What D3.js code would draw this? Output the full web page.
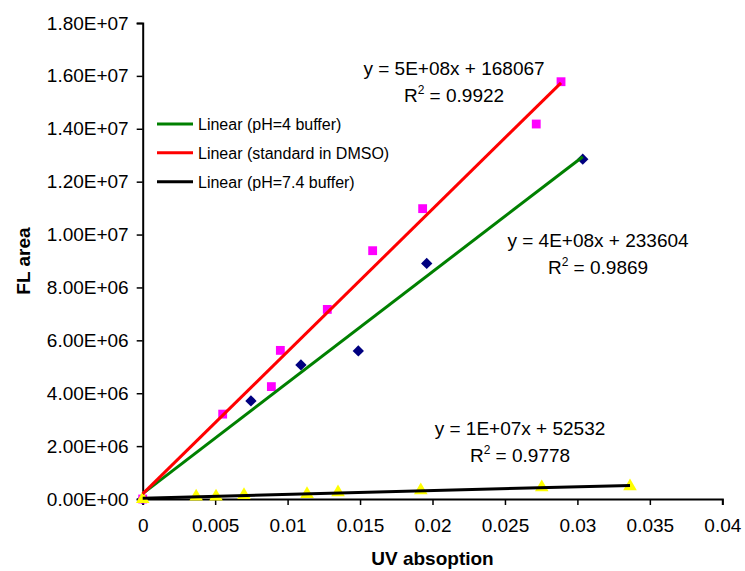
<!DOCTYPE html>
<html>
<head>
<meta charset="utf-8">
<script src="https://cdn.jsdelivr.net/npm/d3@7"></script>
<style>
  html, body { margin: 0; padding: 0; background: #fff; }
  svg { display: block; font-family: "Liberation Sans", Arial, sans-serif; }
</style>
</head>
<body>
<svg id="chart" width="745" height="571"></svg>
<script>
// ---- data ----
const seriesNames = ["pH=4 buffer", "standard in DMSO", "pH=7.4 buffer"];

const ph4X = [0, 0.00747, 0.01092, 0.01488, 0.0196, 0.03037];
const ph4Y = [0, 3.71e6, 5.07e6, 5.60e6, 8.91e6, 1.285e7];

const dmsoX = [0, 0.00552, 0.00888, 0.0095, 0.01274, 0.01587, 0.01932, 0.02716, 0.02887];
const dmsoY = [0, 3.21e6, 4.25e6, 5.62e6, 7.17e6, 9.39e6, 1.098e7, 1.418e7, 1.578e7];

const ph74X = [0, 0.00369, 0.00506, 0.00699, 0.01134, 0.01348, 0.01919, 0.02754, 0.03363];
const ph74Y = [0, 0.09e6, 0.09e6, 0.15e6, 0.19e6, 0.25e6, 0.33e6, 0.44e6, 0.48e6];

const equations = ["y = 4E+08x + 233604", "y = 5E+08x + 168067", "y = 1E+07x + 52532"];
const r2Values = ["0.9869", "0.9922", "0.9778"];

const xTicks = [0, 0.005, 0.01, 0.015, 0.02, 0.025, 0.03, 0.035, 0.04];
const xTickLabels = ["0", "0.005", "0.01", "0.015", "0.02", "0.025", "0.03", "0.035", "0.04"];
const yTicks = [0, 2e6, 4e6, 6e6, 8e6, 1e7, 1.2e7, 1.4e7, 1.6e7, 1.8e7];
const yTickLabels = ["0.00E+00", "2.00E+06", "4.00E+06", "6.00E+06", "8.00E+06",
                     "1.00E+07", "1.20E+07", "1.40E+07", "1.60E+07", "1.80E+07"];

// ---- layout ----
const svg = d3.select("#chart");
const plot = { left: 142.7, right: 722.3, top: 23, bottom: 499 };
const x = d3.scaleLinear().domain([0, 0.04]).range([plot.left, plot.right]);
const y = d3.scaleLinear().domain([0, 1.8e7]).range([plot.bottom, plot.top]);

const series = [
  { name: seriesNames[0], xs: ph4X, ys: ph4Y, marker: "diamond", fill: "#000080", line: "#008000",
    eq: equations[0], r2: r2Values[0], labelX: 598, labelY: 247 },
  { name: seriesNames[1], xs: dmsoX, ys: dmsoY, marker: "square", fill: "#FF00FF", line: "#FF0000",
    eq: equations[1], r2: r2Values[1], labelX: 454, labelY: 75 },
  { name: seriesNames[2], xs: ph74X, ys: ph74Y, marker: "triangle", fill: "#FFFF00", line: "#000000",
    eq: equations[2], r2: r2Values[2], labelX: 520, labelY: 435 }
];

function fit(xs, ys) {
  const n = xs.length;
  const mx = d3.mean(xs), my = d3.mean(ys);
  let sxy = 0, sxx = 0;
  for (let i = 0; i < n; i++) { sxy += (xs[i] - mx) * (ys[i] - my); sxx += (xs[i] - mx) ** 2; }
  const m = sxy / sxx;
  return { m, b: my - m * mx };
}

// ---- axes ----
const xAxis = d3.axisBottom(x).tickValues(xTicks)
  .tickFormat((d, i) => xTickLabels[i]).tickSize(6).tickPadding(14);
const gx = svg.append("g").attr("transform", `translate(0,${plot.bottom})`).call(xAxis);
gx.select(".domain").attr("stroke", "#000").attr("stroke-width", 2);
gx.selectAll(".tick line").attr("stroke", "#000").attr("stroke-width", 1.5);
gx.selectAll(".tick text").attr("font-size", 19).attr("fill", "#000")
  .attr("font-family", "Liberation Sans, Arial, sans-serif");

const yAxis = d3.axisLeft(y).tickValues(yTicks)
  .tickFormat((d, i) => yTickLabels[i]).tickSize(6).tickPadding(8);
const gy = svg.append("g").attr("transform", `translate(${plot.left},0)`).call(yAxis);
gy.select(".domain").attr("stroke", "#000").attr("stroke-width", 2);
gy.selectAll(".tick line").attr("stroke", "#000").attr("stroke-width", 1.5);
gy.selectAll(".tick text").attr("font-size", 19).attr("fill", "#000")
  .attr("font-family", "Liberation Sans, Arial, sans-serif");

// axis titles
svg.append("text").attr("x", (plot.left + plot.right) / 2).attr("y", 565)
  .attr("text-anchor", "middle").attr("font-size", 19).attr("font-weight", "bold")
  .text("UV absoption");
svg.append("text").attr("transform", `translate(30,${(plot.top + plot.bottom) / 2}) rotate(-90)`)
  .attr("text-anchor", "middle").attr("font-size", 19).attr("font-weight", "bold")
  .text("FL area");

// ---- markers ----
const symbolType = { diamond: d3.symbolSquare, square: d3.symbolSquare, triangle: d3.symbolTriangle };
const symbolSize = { diamond: 64, square: 78, triangle: 80 };
const symbolRot = { diamond: 45, square: 0, triangle: 0 };
series.forEach(s => {
  const pts = s.xs.map((v, i) => [v, s.ys[i]]);
  svg.append("g").selectAll("path").data(pts).join("path")
    .attr("transform", d => `translate(${x(d[0])},${y(d[1])}) rotate(${symbolRot[s.marker]})`)
    .attr("d", d3.symbol().type(symbolType[s.marker]).size(symbolSize[s.marker]))
    .attr("fill", s.fill);
});

// ---- trendlines ----
series.forEach(s => {
  const f = fit(s.xs, s.ys);
  const x0 = d3.min(s.xs), x1 = d3.max(s.xs);
  svg.append("line")
    .attr("x1", x(x0)).attr("y1", y(f.m * x0 + f.b))
    .attr("x2", x(x1)).attr("y2", y(f.m * x1 + f.b))
    .attr("stroke", s.line).attr("stroke-width", 3);
});

// ---- equation labels ----
series.forEach(s => {
  svg.append("text").attr("x", s.labelX).attr("y", s.labelY)
    .attr("text-anchor", "middle").attr("font-size", 19).attr("fill", "#000")
    .attr("xml:space", "preserve").text(s.eq);
  const t = svg.append("text").attr("x", s.labelX).attr("y", s.labelY + 27)
    .attr("text-anchor", "middle").attr("font-size", 19).attr("fill", "#000");
  t.append("tspan").text("R");
  t.append("tspan").attr("font-size", 12).attr("dy", -8).text("2");
  t.append("tspan").attr("dy", 8).text(" = " + s.r2);
});

// ---- legend ----
const legendRows = [124, 152.7, 181.7];
series.forEach((s, i) => {
  const g = svg.append("g").attr("transform", `translate(157,${legendRows[i]})`);
  g.append("line").attr("x1", 0).attr("x2", 36).attr("y1", 0).attr("y2", 0)
    .attr("stroke", s.line).attr("stroke-width", 3);
  g.append("text").attr("x", 41).attr("y", 6).attr("font-size", 16).attr("fill", "#000")
    .text(`Linear (${s.name})`);
});
</script>
</body>
</html>
